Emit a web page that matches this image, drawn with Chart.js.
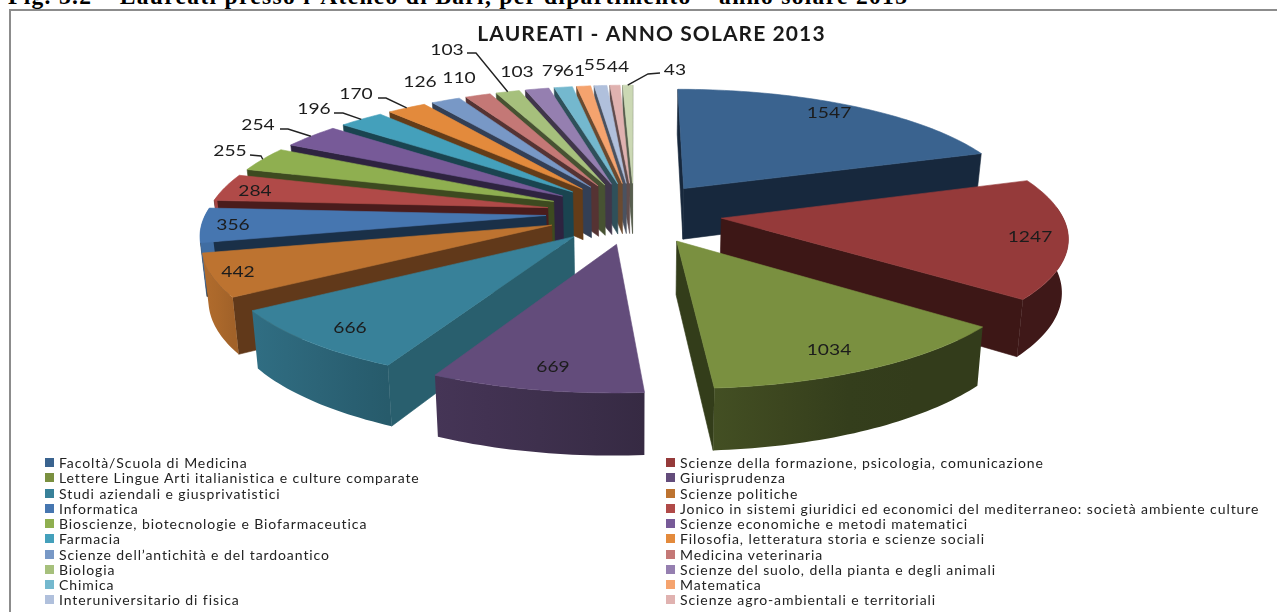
<!DOCTYPE html>
<html lang="it"><head><meta charset="utf-8">
<script src="https://cdn.jsdelivr.net/npm/chart.js@4"></script>
<style>
html,body{margin:0;padding:0;width:1277px;height:612px;overflow:hidden;background:#fff}
#head{position:absolute;left:8px;top:-17px;font:bold 23.5px "Liberation Serif",serif;color:#000;white-space:nowrap;letter-spacing:1.32px}
#frame{position:absolute;left:9px;top:9px;width:1300px;height:620px;border:2px solid #8c8c8c;box-sizing:content-box}
#wrap{position:absolute;left:0;top:0;width:1277px;height:612px}
.li{position:absolute;font:14px Lato,sans-serif;color:#222;white-space:nowrap;letter-spacing:.92px;line-height:15px}
.sw{position:absolute;width:9px;height:9px}
</style></head><body>
<div id="head">Fig. 3.2 – Laureati presso l’Ateneo di Bari, per dipartimento – anno solare 2013</div>
<div id="frame"></div>
<div id="wrap"><canvas id="c" width="1277" height="612"></canvas></div>
<div id="legend"></div>
<script>
const categories = [
 "Facoltà/Scuola di Medicina","Scienze della formazione, psicologia, comunicazione",
 "Lettere Lingue Arti italianistica e culture comparate","Giurisprudenza",
 "Studi aziendali e giusprivatistici","Scienze politiche",
 "Informatica","Jonico in sistemi giuridici ed economici del mediterraneo: società ambiente culture",
 "Bioscienze, biotecnologie e Biofarmaceutica","Scienze economiche e metodi matematici",
 "Farmacia","Filosofia, letteratura storia e scienze sociali",
 "Scienze dell’antichità e del tardoantico","Medicina veterinaria",
 "Biologia","Scienze del suolo, della pianta e degli animali",
 "Chimica","Matematica",
 "Interuniversitario di fisica","Scienze agro-ambientali e territoriali",""];
const values = [1547,1247,1034,669,666,442,356,284,255,254,196,170,126,110,103,103,79,61,55,44,43];
const topColors = ["#3a638f","#953a3a","#7a9040","#634c7b","#388199","#bd7330","#4676b0","#b04a48","#8faf50","#775a98","#44a0bb","#e38a3c","#7898c6","#c47876","#a6c07c","#957fb0","#74b8ce","#f5a36e","#b0c0dc","#e0b2b0","#cbd8b4"];
const wallColors = ["#17283d","#3d1716","#333d1a","#3f2f52","#295f6e","#61391a","#1a3048","#4a1c1c","#3d4a20","#2e2340","#1a4450","#643c18","#333f55","#553333","#475232","#40364a","#2f505a","#6a4a30","#4a5260","#604c4c","#575e4e"];
const labelSpots = [[829,113],[1030,237],[829,350],[553,367],[350,328],[238,272],[233,225],[255,191],[230,151],[258,125],[314,109],[356,94],[420,82],[459,78],[447,50],[517,72],[553,71],[574,71],[595,65],[618,67],[675,70]];
const leaderStubs = {8:[[250,155],[261,156]],9:[[280,129],[288,129]],10:[[334,113],[343,113]],11:[[378,98],[386,98]],14:[[467,53],[476,53]],20:[[660,73],[648,74]]};

const view = {cx:634, cy:213, radius:340, persp:0.0004, tilt:0.35, depth:52, taper:0.015};
const proj = (u,v,z) => {
  const w = 1 + view.persp*v;
  return [view.cx + u/w*(1 - view.taper*z), view.cy - view.tilt*v/w + z*view.depth/w];
};
function hex(c){return [1,3,5].map(i=>parseInt(c.substr(i,2),16));}
function shade(c,f){return "rgb("+hex(c).map(x=>Math.round(x*f)).join(",")+")";}
const wallFactor = deg => deg<150 ? 0.42 : Math.min(0.92,0.42+(deg-150)*0.005);

const pie3d = {
  id:"pie3d",
  beforeDraw(chart){ chart.ctx.letterSpacing="1.1px"; },
  beforeDatasetsDraw(chart){
    const ctx = chart.ctx, meta = chart.getDatasetMeta(0), R = view.radius;
    ctx.letterSpacing="0px";
    const items = meta.data.map((el,i)=>{
      const a0 = el.startAngle + Math.PI/2, a1 = el.endAngle + Math.PI/2, mid = (a0+a1)/2;
      const E = el.options.offset;
      return {i,a0,a1,mid,ou:E*Math.sin(mid),ov:E*Math.cos(mid)};
    }).sort((p,q)=>Math.cos(q.mid)-Math.cos(p.mid));
    const poly = (pts,fill,edge)=>{
      ctx.beginPath(); pts.forEach((p,k)=>k?ctx.lineTo(p[0],p[1]):ctx.moveTo(p[0],p[1])); ctx.closePath();
      ctx.fillStyle=fill; ctx.fill();
      if(edge!==false){ctx.strokeStyle=fill; ctx.lineWidth=.6; ctx.stroke();}
    };
    const rim = (s,a,z)=>proj(s.ou+R*Math.sin(a), s.ov+R*Math.cos(a), z);
    const ap = (s,z)=>proj(s.ou,s.ov,z);
    for(const s of items){
      const base = topColors[s.i], wall = wallColors[s.i];
      if(Math.cos(s.a1+Math.PI/2) <= 0.01) poly([ap(s,0),rim(s,s.a1,0),rim(s,s.a1,1),ap(s,1)],wall);
      if(Math.cos(s.a0-Math.PI/2) <= 0.01) poly([ap(s,0),rim(s,s.a0,0),rim(s,s.a0,1),ap(s,1)],wall);
      const lo = Math.max(s.a0,Math.PI*0.47), hi = Math.min(s.a1,Math.PI*1.53);
      if(hi>lo){
        const n = Math.ceil((hi-lo)/0.02), up=[], dn=[];
        for(let k=0;k<=n;k++){ const b=lo+(hi-lo)*k/n; up.push(rim(s,b,0)); dn.unshift(rim(s,b,1)); }
        const x0=up[0][0], x1=up[n][0], g=ctx.createLinearGradient(x0,0,x1,0);
        for(let k=0;k<=4;k++) g.addColorStop(k/4,shade(base,wallFactor((lo+(hi-lo)*k/4)*180/Math.PI)));
        poly(up.concat(dn),g,false);
      }
      const pts=[ap(s,0)], m=Math.max(4,Math.ceil((s.a1-s.a0)/0.02));
      for(let k=0;k<=m;k++) pts.push(rim(s,s.a0+(s.a1-s.a0)*k/m,0));
      poly(pts,base);
    }
    ctx.strokeStyle="#222"; ctx.lineWidth=1.4;
    for(const key in leaderStubs){
      const s = items.find(t=>t.i===+key), st = leaderStubs[key], e = rim(s,s.mid,0);
      ctx.beginPath(); ctx.moveTo(st[0][0],st[0][1]); ctx.lineTo(st[1][0],st[1][1]); ctx.lineTo(e[0],e[1]); ctx.stroke();
    }
    ctx.fillStyle="#1c1c1c"; ctx.textAlign="center"; ctx.textBaseline="middle"; ctx.font="16px Lato, sans-serif";
    values.forEach((val,i)=>{
      ctx.save(); ctx.translate(labelSpots[i][0],labelSpots[i][1]); ctx.scale(1.2,1);
      ctx.fillText(String(val),0,0); ctx.restore();
    });
    return false;
  }
};

new Chart(document.getElementById("c"),{
  type:"pie",
  plugins:[pie3d],
  data:{labels:categories,datasets:[{data:values,backgroundColor:topColors,offset:88,borderWidth:0}]},
  options:{responsive:false,animation:false,rotation:0,
    layout:{padding:{left:26,top:0}},
    plugins:{legend:{display:false},tooltip:{enabled:false},
      title:{display:true,text:"LAUREATI - ANNO SOLARE 2013",color:"#1a1a1a",font:{family:"Lato, sans-serif",size:21,weight:"bold"},padding:{top:22,bottom:10}}}}
});

const lg = document.getElementById("legend");
categories.forEach((name,i)=>{
  if(!name) return;
  const col = i%2, row = (i-col)/2, y = 463 + row*15.25;
  const sw = document.createElement("div"); sw.className="sw";
  sw.style.cssText="left:"+(col?666:45)+"px;top:"+(y-5)+"px;background:"+topColors[i];
  const t = document.createElement("div"); t.className="li"; t.textContent=name;
  t.style.cssText="left:"+(col?680:59)+"px;top:"+(y-8)+"px";
  lg.appendChild(sw); lg.appendChild(t);
});
</script>
</body></html>
